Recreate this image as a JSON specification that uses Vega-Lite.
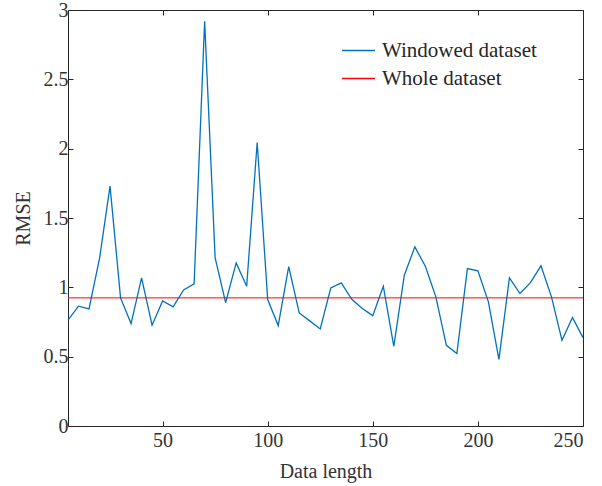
{
  "$schema": "https://vega.github.io/schema/vega-lite/v6.json",
  "width": 515,
  "height": 416,
  "autosize": "none",
  "padding": {"left": 68, "top": 10, "right": 19, "bottom": 60},
  "background": "white",
  "config": {
    "font": "Liberation Serif, Times New Roman, serif",
    "view": {"stroke": "#262626", "strokeWidth": 1},
    "axis": {
      "grid": false,
      "domain": false,
      "tickColor": "#262626",
      "tickSize": -5,
      "tickWidth": 1,
      "labelFont": "Liberation Serif, Times New Roman, serif",
      "labelFontSize": 20,
      "labelColor": "#333333",
      "titleFont": "Liberation Serif, Times New Roman, serif",
      "titleFontSize": 20,
      "titleFontWeight": "normal",
      "titleColor": "#333333"
    }
  },
  "datasets": {
    "windowed": [
      {"length": 5, "rmse": 0.763, "series": "Windowed dataset"},
      {"length": 10, "rmse": 0.864, "series": "Windowed dataset"},
      {"length": 15, "rmse": 0.844, "series": "Windowed dataset"},
      {"length": 20, "rmse": 1.208, "series": "Windowed dataset"},
      {"length": 25, "rmse": 1.73, "series": "Windowed dataset"},
      {"length": 30, "rmse": 0.924, "series": "Windowed dataset"},
      {"length": 35, "rmse": 0.739, "series": "Windowed dataset"},
      {"length": 40, "rmse": 1.068, "series": "Windowed dataset"},
      {"length": 45, "rmse": 0.727, "series": "Windowed dataset"},
      {"length": 50, "rmse": 0.902, "series": "Windowed dataset"},
      {"length": 55, "rmse": 0.859, "series": "Windowed dataset"},
      {"length": 60, "rmse": 0.981, "series": "Windowed dataset"},
      {"length": 65, "rmse": 1.025, "series": "Windowed dataset"},
      {"length": 70, "rmse": 2.918, "series": "Windowed dataset"},
      {"length": 75, "rmse": 1.212, "series": "Windowed dataset"},
      {"length": 80, "rmse": 0.89, "series": "Windowed dataset"},
      {"length": 85, "rmse": 1.176, "series": "Windowed dataset"},
      {"length": 90, "rmse": 1.008, "series": "Windowed dataset"},
      {"length": 95, "rmse": 2.045, "series": "Windowed dataset"},
      {"length": 100, "rmse": 0.912, "series": "Windowed dataset"},
      {"length": 105, "rmse": 0.724, "series": "Windowed dataset"},
      {"length": 110, "rmse": 1.15, "series": "Windowed dataset"},
      {"length": 115, "rmse": 0.815, "series": "Windowed dataset"},
      {"length": 120, "rmse": 0.758, "series": "Windowed dataset"},
      {"length": 125, "rmse": 0.7, "series": "Windowed dataset"},
      {"length": 130, "rmse": 0.995, "series": "Windowed dataset"},
      {"length": 135, "rmse": 1.032, "series": "Windowed dataset"},
      {"length": 140, "rmse": 0.914, "series": "Windowed dataset"},
      {"length": 145, "rmse": 0.847, "series": "Windowed dataset"},
      {"length": 150, "rmse": 0.796, "series": "Windowed dataset"},
      {"length": 155, "rmse": 1.008, "series": "Windowed dataset"},
      {"length": 160, "rmse": 0.575, "series": "Windowed dataset"},
      {"length": 165, "rmse": 1.087, "series": "Windowed dataset"},
      {"length": 170, "rmse": 1.292, "series": "Windowed dataset"},
      {"length": 175, "rmse": 1.152, "series": "Windowed dataset"},
      {"length": 180, "rmse": 0.931, "series": "Windowed dataset"},
      {"length": 185, "rmse": 0.582, "series": "Windowed dataset"},
      {"length": 190, "rmse": 0.522, "series": "Windowed dataset"},
      {"length": 195, "rmse": 1.135, "series": "Windowed dataset"},
      {"length": 200, "rmse": 1.119, "series": "Windowed dataset"},
      {"length": 205, "rmse": 0.895, "series": "Windowed dataset"},
      {"length": 210, "rmse": 0.481, "series": "Windowed dataset"},
      {"length": 215, "rmse": 1.068, "series": "Windowed dataset"},
      {"length": 220, "rmse": 0.955, "series": "Windowed dataset"},
      {"length": 225, "rmse": 1.034, "series": "Windowed dataset"},
      {"length": 230, "rmse": 1.155, "series": "Windowed dataset"},
      {"length": 235, "rmse": 0.931, "series": "Windowed dataset"},
      {"length": 240, "rmse": 0.618, "series": "Windowed dataset"},
      {"length": 245, "rmse": 0.782, "series": "Windowed dataset"},
      {"length": 250, "rmse": 0.637, "series": "Windowed dataset"}
    ],
    "whole": [
      {"length": 5, "rmse": 0.924, "series": "Whole dataset"},
      {"length": 250, "rmse": 0.924, "series": "Whole dataset"}
    ]
  },
  "layer": [
    {
      "data": {"name": "windowed"},
      "mark": {"type": "line", "strokeWidth": 1.3},
      "encoding": {
        "x": {
          "field": "length", "type": "quantitative",
          "scale": {"domain": [5, 250], "nice": false, "zero": false},
          "axis": {"orient": "bottom", "values": [50, 100, 150, 200, 250], "title": "Data length", "labelPadding": 9, "titlePadding": 11}
        },
        "y": {
          "field": "rmse", "type": "quantitative",
          "scale": {"domain": [0, 3], "nice": false},
          "axis": {"orient": "left", "values": [0, 0.5, 1, 1.5, 2, 2.5, 3], "format": "~g", "title": "RMSE", "labelPadding": 5, "titlePadding": 10}
        },
        "color": {
          "field": "series", "type": "nominal",
          "scale": {"domain": ["Windowed dataset", "Whole dataset"], "range": ["#0072BD", "#FF0000"]},
          "legend": {
            "title": null,
            "orient": "none",
            "legendX": 273,
            "legendY": 23,
            "symbolType": "stroke",
            "symbolSize": 1089,
            "symbolStrokeWidth": 1.3,
            "labelFont": "Liberation Serif, Times New Roman, serif",
            "labelFontSize": 21,
            "labelColor": "#262626",
            "labelOffset": 6,
            "rowPadding": -6,
            "padding": 0
          }
        }
      }
    },
    {
      "data": {"name": "whole"},
      "mark": {"type": "line", "strokeWidth": 1},
      "encoding": {
        "x": {
          "field": "length", "type": "quantitative",
          "axis": {"orient": "top", "values": [50, 100, 150, 200, 250], "labels": false, "title": null}
        },
        "y": {
          "field": "rmse", "type": "quantitative",
          "axis": {"orient": "right", "values": [0, 0.5, 1, 1.5, 2, 2.5, 3], "labels": false, "title": null}
        },
        "color": {"field": "series", "type": "nominal"}
      }
    }
  ],
  "resolve": {"axis": {"x": "independent", "y": "independent"}}
}
